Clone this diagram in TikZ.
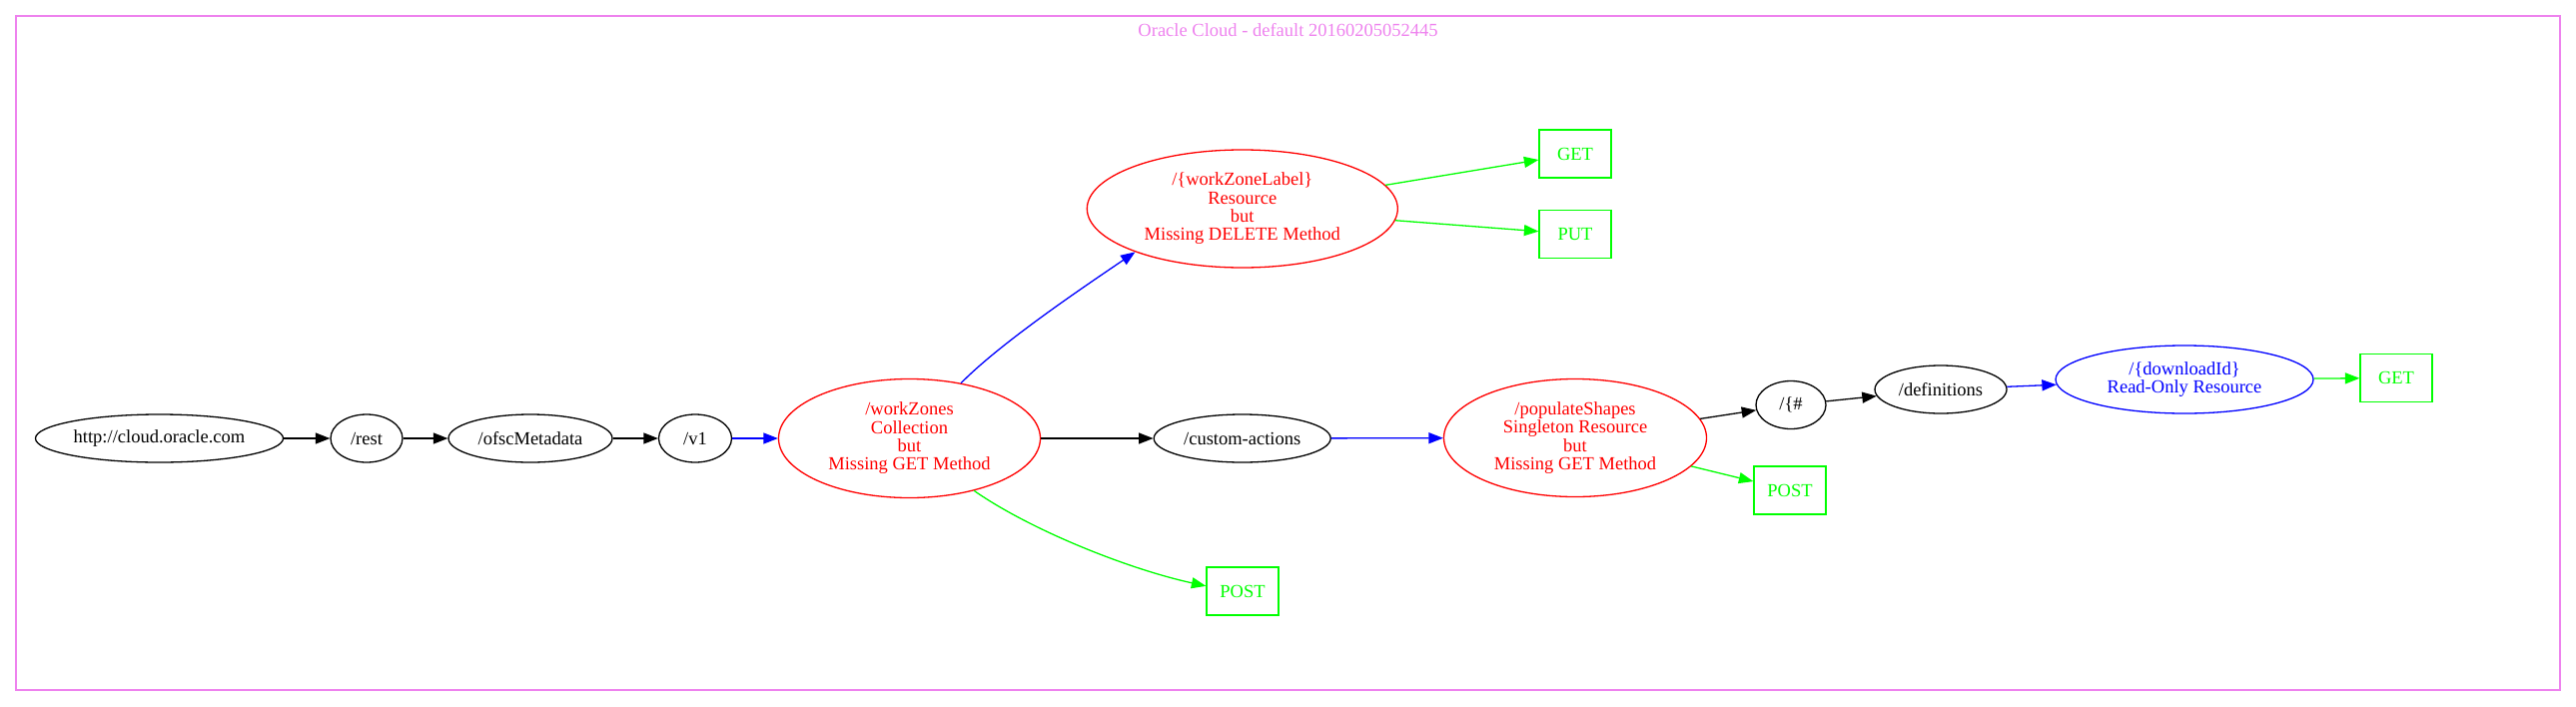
\documentclass[tikz,border=0pt]{standalone}
\usepackage{fontspec}
\setmainfont{Liberation Serif}
\usetikzlibrary{shapes.geometric,arrows.meta}
\definecolor{gvred}{HTML}{FF0000}
\definecolor{gvgreen}{HTML}{00FF00}
\definecolor{gvblue}{HTML}{0000FF}
\definecolor{gvviolet}{HTML}{EE82EE}
\tikzset{
  base/.style={font=\fontsize{18.5}{18.3}\selectfont, line width=1.3pt, inner sep=0pt, align=center},
  ell/.style={base, draw, ellipse},
  redell/.style={ell, draw=gvred, text=gvred},
  blueell/.style={ell, draw=gvblue, text=gvblue},
  methodbox/.style={base, rectangle, draw=gvgreen, text=gvgreen, minimum width=72pt, minimum height=48pt},
  edge/.style={-{Triangle[length=14.5pt,width=11pt]}, line width=1.3pt},
  greenedge/.style={edge, draw=gvgreen},
  blueedge/.style={edge, draw=gvblue},
}
\begin{document}
\begin{tikzpicture}[x=1pt,y=-1pt]
\useasboundingbox (0,0) rectangle (2579,707);
\draw[gvviolet, line width=1.3pt] (16,16) rectangle (2563,691);
\node[base, text=gvviolet] (title) at (1289.5,30) {Oracle Cloud - default 20160205052445};

\node[ell, minimum width=248pt, minimum height=48pt] (http) at (159.5,439) {http://cloud.oracle.com};
\node[ell, minimum width=72pt, minimum height=48pt] (rest) at (367,439) {/rest};
\node[ell, minimum width=164pt, minimum height=48pt] (ofsc) at (531,439) {/ofscMetadata};
\node[ell, minimum width=73pt, minimum height=48pt] (v1) at (696,439) {/v1};
\node[redell, minimum width=262pt, minimum height=119pt] (wz) at (910.5,439) {/workZones\\Collection\\but\\Missing GET Method};
\node[ell, minimum width=177pt, minimum height=48pt] (ca) at (1243.7,439) {/custom-actions};
\node[redell, minimum width=263pt, minimum height=118pt] (ps) at (1577,438.5) {/populateShapes\\Singleton Resource\\but\\Missing GET Method};
\node[redell, minimum width=311pt, minimum height=118pt] (wzl) at (1243.8,209) {/\{workZoneLabel\}\\Resource\\but\\Missing DELETE Method};
\node[methodbox] (get1) at (1577,154) {GET};
\node[methodbox] (put1) at (1577,234.5) {PUT};
\node[methodbox] (post1) at (1244,592) {POST};
\node[ell, minimum width=70pt, minimum height=48pt] (hash) at (1793,405.5) {/\{\#};
\node[ell, minimum width=132pt, minimum height=48pt] (defs) at (1943,390) {/definitions};
\node[blueell, minimum width=258pt, minimum height=68pt] (dl) at (2187,380) {/\{downloadId\}\\Read-Only Resource};
\node[methodbox] (get2) at (2399,378.5) {GET};
\node[methodbox] (post2) at (1792,491) {POST};

\draw[edge] (http) -- (rest);
\draw[edge] (rest) -- (ofsc);
\draw[edge] (ofsc) -- (v1);
\draw[blueedge] (v1) -- (wz);
\draw[blueedge] (wz.47) .. controls (1002,343) and (1087,286) .. (wzl.202);
\draw[greenedge] (wz.-39) .. controls (1032,531) and (1130,570) .. (post1.172);
\draw[edge] (wz) -- (ca);
\draw[greenedge] (wzl) -- (get1);
\draw[greenedge] (wzl) -- (put1);
\draw[blueedge] (ca) -- (ps);
\draw[edge] (ps) -- (hash);
\draw[greenedge] (ps) -- (post2);
\draw[edge] (hash) -- (defs);
\draw[blueedge] (defs) -- (dl);
\draw[greenedge] (dl) -- (get2);
\end{tikzpicture}
\end{document}
